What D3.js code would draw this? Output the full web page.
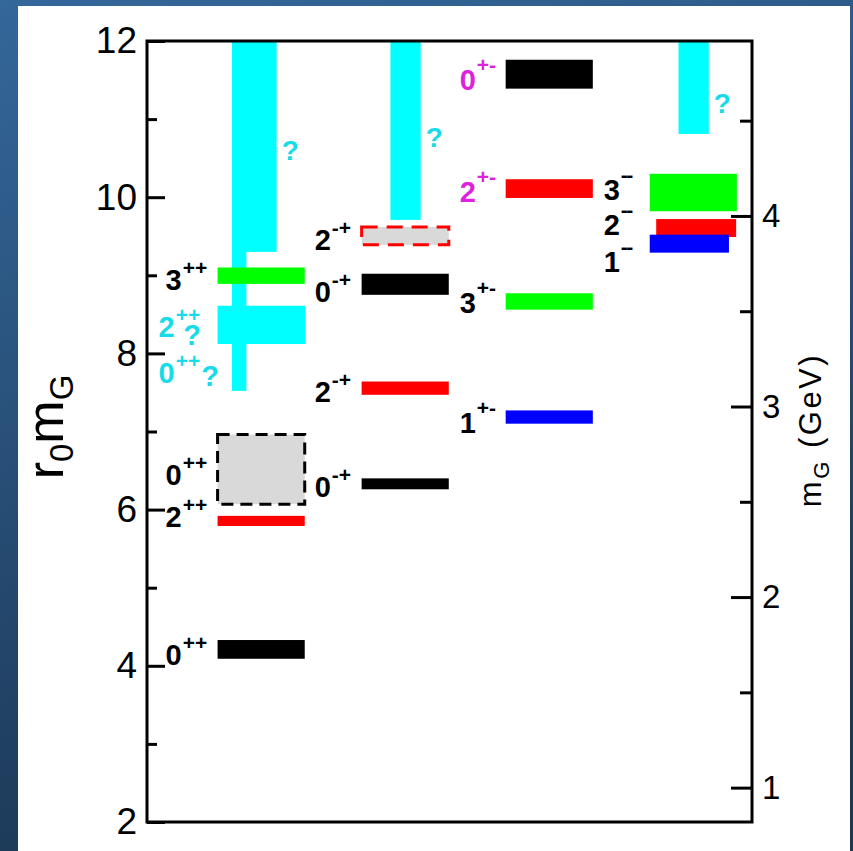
<!DOCTYPE html>
<html>
<head>
<meta charset="utf-8">
<script src="https://cdn.jsdelivr.net/npm/d3@7"></script>
<style>
  body { margin: 0; }
  svg { display: block; }
</style>
</head>
<body>
<svg id="chart" width="853" height="851"></svg>
<script>
// PC columns, left to right
const pcColumns = ["++", "-+", "+-", "--"];

// glueball levels: J, PC column, r0*mG band
const levelJ   = [0, 2, 0, 3,   0, 2, 0, 2,   1, 3, 2, 0,   3, 2, 1];
const levelPC  = ["++", "++", "++", "++", "-+", "-+", "-+", "-+", "+-", "+-", "+-", "+-", "--", "--", "--"];
const levelLo  = [4.09, 5.79, 6.07, 8.89, 6.26, 7.47, 8.75, 9.39, 7.10, 8.56, 9.99, 11.39, 9.82, 9.49, 9.29];
const levelHi  = [4.33, 5.92, 6.96, 9.10, 6.40, 7.64, 9.02, 9.62, 7.27, 8.77, 10.23, 11.76, 10.30, 9.72, 9.52];
const levelDashed = [false, false, true, false, false, false, false, true, false, false, false, false, false, false, false];

// uncertain (cyan) regions
const unsurePC = ["++", "++", "++", "-+", "--"];
const unsureLo = [7.52, 9.30, 8.12, 9.71, 10.81];
const unsureHi = [12, 12, 8.61, 12, 12];
const unsureQ  = [null, 10.48, null, 10.64, 11.08];   // "?" beside bar, baseline in r0*mG

// level labels
const labelJ    = ["0", "2", "0", "3", "2", "0", "0", "2", "0", "2", "1", "3", "2", "0", "3", "2", "1"];
const labelPC   = ["++", "++", "++", "++", "++", "++", "-+", "-+", "-+", "-+", "+-", "+-", "+-", "+-", "--", "--", "--"];
const labelAt   = [4.01, 5.78, 6.31, 8.81, 8.21, 7.62, 6.16, 7.38, 8.66, 9.32, 6.98, 8.52, 9.94, 11.37, 9.96, 9.52, 9.04];
const labelTone = ["plain", "plain", "plain", "plain", "unsure", "unsure", "plain", "plain", "plain", "plain",
                   "plain", "plain", "exotic", "exotic", "plain", "plain", "plain"];

// axes
const leftMajor  = [2, 4, 6, 8, 10, 12];
const leftMinor  = [3, 5, 7, 9, 11];
const rightMajor = [1, 2, 3, 4];
const rightMinor = [1.5, 2.5, 3.5, 4.5];
const r0PerGeV = 2.44;   // r0*mG per GeV

// ---- layout / styles ----
const jColor = {0: "#000000", 1: "#0000ff", 2: "#ff0000", 3: "#00ff00"};
const toneColor = {plain: "#000000", unsure: "#18dbe8", exotic: "#dd22dd"};
const cyan = "#00ffff";
const font = "'Liberation Sans', Arial, Helvetica, sans-serif";

const svg = d3.select("#chart");

const bg = svg.append("defs").append("linearGradient")
    .attr("id", "bg").attr("x1", 0).attr("y1", 0).attr("x2", 0.25).attr("y2", 1);
bg.append("stop").attr("offset", "0%").attr("stop-color", "#34679a");
bg.append("stop").attr("offset", "100%").attr("stop-color", "#1c3856");

svg.append("rect").attr("width", 853).attr("height", 851).attr("fill", "url(#bg)");
svg.append("rect").attr("x", 18).attr("y", 6).attr("width", 832).attr("height", 845).attr("fill", "#fff");

const x = d3.scaleLinear().domain([0, 4.2]).range([147, 752]);
const y = d3.scaleLinear().domain([2, 12]).range([822, 41]);
const yG = d3.scaleLinear().domain([2 / r0PerGeV, 12 / r0PerGeV]).range([822, 41]);
const col = pc => pcColumns.indexOf(pc);

// horizontal spans inside a column (column units)
const barSpan = [0.49, 1.095];
const levelSpan = i => i === 13 ? [0.535, 1.09] : i === 14 ? [0.49, 1.04] : barSpan;
const unsureSpan = [[0.59, 0.69], [0.59, 0.90], [0.49, 1.10], [0.69, 0.90], [0.69, 0.90]];

// cyan regions first
const g = svg.append("g");
g.selectAll("rect.unsure")
  .data(unsureLo.map((lo, i) => ({i, pc: unsurePC[i], lo, hi: unsureHi[i]})))
  .enter().append("rect")
    .attr("class", "unsure")
    .attr("x", d => x(col(d.pc) + unsureSpan[d.i][0]))
    .attr("width", d => x(col(d.pc) + unsureSpan[d.i][1]) - x(col(d.pc) + unsureSpan[d.i][0]))
    .attr("y", d => y(d.hi))
    .attr("height", d => y(d.lo) - y(d.hi))
    .attr("fill", cyan);

// levels
const levels = levelLo.map((lo, i) => ({i, j: levelJ[i], pc: levelPC[i], lo, hi: levelHi[i], dashed: levelDashed[i]}));
g.selectAll("rect.level")
  .data(levels)
  .enter().append("rect")
    .attr("class", "level")
    .attr("x", d => x(col(d.pc) + levelSpan(d.i)[0]))
    .attr("width", d => x(col(d.pc) + levelSpan(d.i)[1]) - x(col(d.pc) + levelSpan(d.i)[0]))
    .attr("y", d => y(d.hi))
    .attr("height", d => y(d.lo) - y(d.hi))
    .attr("fill", d => d.dashed ? "#d9d9d9" : jColor[d.j])
    .attr("stroke", d => d.dashed ? jColor[d.j] : "none")
    .attr("stroke-width", 3)
    .attr("stroke-dasharray", d => d.j === 2 ? "16,9" : "12,7");

// labels
const labelDx = [-5, 0, 1, 1];
const supRaise = [15, 15, 18, 18];
const labels = labelJ.map((j, i) => ({j, pc: labelPC[i], at: labelAt[i], tone: labelTone[i]}));
const lab = g.selectAll("text.lab")
  .data(labels)
  .enter().append("text")
    .attr("class", "lab")
    .attr("x", d => x(col(d.pc) + barSpan[0]) - 47 + labelDx[col(d.pc)] + (d.tone === "unsure" ? -7 : 0))
    .attr("y", d => y(d.at))
    .attr("fill", d => toneColor[d.tone])
    .style("font-family", font)
    .style("font-weight", "bold")
    .style("font-size", "29px");
lab.append("tspan").text(d => d.j);
lab.append("tspan")
    .attr("dx", 1)
    .attr("dy", d => -supRaise[col(d.pc)])
    .style("font-size", "21px")
    .style("letter-spacing", d => d.pc === "--" ? "-1.5px" : "0px")
    .text(d => d.pc);

// "?" tucked after the cyan J^PC labels (same text element)
const qShift = [[-17, 23], [1, 18]];   // [dx, dy] relative to superscript end
lab.filter(d => d.tone === "unsure")
  .append("tspan")
    .attr("dx", (d, k) => qShift[k][0])
    .attr("dy", (d, k) => qShift[k][1])
    .text("?");

// "?" beside tall cyan bars
g.selectAll("text.q")
  .data(unsureQ.map((q, i) => ({i, q, pc: unsurePC[i]})).filter(d => d.q !== null))
  .enter().append("text")
    .attr("x", d => x(col(d.pc) + unsureSpan[d.i][1]) + 5)
    .attr("y", d => y(d.q))
    .attr("fill", toneColor.unsure)
    .style("font-family", font)
    .style("font-weight", "bold")
    .style("font-size", "28px")
    .text("?");

// axes
function styleAxis(sel, size) {
  sel.select(".domain").remove();
  sel.selectAll(".tick line").attr("stroke", "#000").attr("stroke-width", 3);
  sel.selectAll(".tick text").style("font-family", font).style("font-size", size).attr("fill", "#000");
}

svg.append("g").attr("transform", "translate(147,0)")
  .call(d3.axisLeft(y).tickValues(leftMajor).tickSize(-18).tickPadding(10).tickFormat(d3.format("d")))
  .call(s => styleAxis(s, "37px"));
svg.append("g").attr("transform", "translate(147,0)")
  .call(d3.axisLeft(y).tickValues(leftMinor).tickSize(-10).tickFormat(""))
  .call(s => styleAxis(s, "37px"));

svg.append("g").attr("transform", "translate(752,0)")
  .call(d3.axisRight(yG).tickValues(rightMajor).tickSize(-21).tickPadding(10).tickFormat(d3.format("d")))
  .call(s => styleAxis(s, "33px"));
svg.append("g").attr("transform", "translate(752,0)")
  .call(d3.axisRight(yG).tickValues(rightMinor).tickSize(-12).tickFormat(""))
  .call(s => styleAxis(s, "33px"));

// frame
svg.append("rect")
    .attr("x", x(0)).attr("y", y(12))
    .attr("width", x(4.2) - x(0)).attr("height", y(2) - y(12))
    .attr("fill", "none").attr("stroke", "#000").attr("stroke-width", 3);

// axis titles
const lt = svg.append("text")
    .attr("transform", "translate(63,427) rotate(-90)")
    .attr("text-anchor", "middle")
    .style("font-family", font)
    .style("font-size", "52px");
lt.append("tspan").text("r");
lt.append("tspan").attr("dy", 10).style("font-size", "33px").text("0");
lt.append("tspan").attr("dy", -10).text("m");
lt.append("tspan").attr("dy", 10).style("font-size", "33px").text("G");

const rt = svg.append("text")
    .attr("transform", "translate(821,430) rotate(-90)")
    .attr("text-anchor", "middle")
    .style("font-family", font)
    .style("font-size", "31px")
    .style("letter-spacing", "2.5px");
rt.append("tspan").text("m");
rt.append("tspan").attr("dy", 8).style("font-size", "22px").text("G");
rt.append("tspan").attr("dy", -8).text(" (GeV)");
</script>
</body>
</html>
